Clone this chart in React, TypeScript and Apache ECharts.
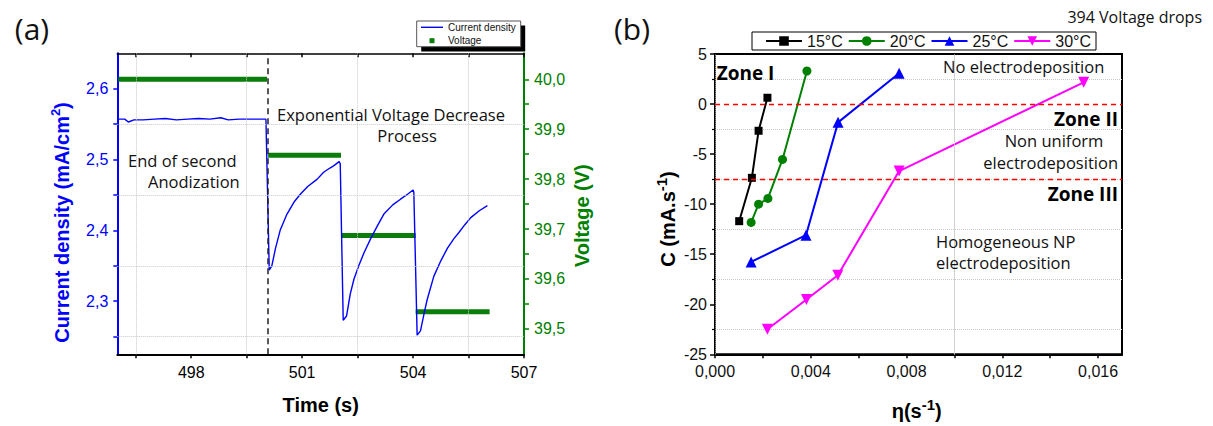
import { useEffect, useRef } from "react";
import * as echarts from "echarts";

// ---------- Panel (a) data ----------
const timeS = [
  496.0, 496.2, 496.3, 496.45, 496.7, 497.0, 497.3, 497.6, 497.9, 498.2, 498.5, 498.8, 499.0, 499.3, 499.6, 500.02,
  500.11, 500.18, 500.28, 500.41, 500.59, 500.78, 500.95, 501.15, 501.4, 501.58, 501.75, 501.85, 502.0, 502.03,
  502.11, 502.2, 502.3, 502.4, 502.53, 502.67, 502.85, 503.03, 503.21, 503.45, 503.66, 503.85, 504.0, 504.02,
  504.11, 504.2, 504.3, 504.38, 504.56, 504.75, 504.93, 505.1, 505.24, 505.4, 505.56, 505.8, 506.01,
];
const currentDensity = [
  2.557, 2.557, 2.553, 2.556, 2.556, 2.557, 2.558, 2.556, 2.557, 2.558, 2.557, 2.559, 2.556, 2.557, 2.557, 2.557,
  2.344, 2.35, 2.375, 2.401, 2.423, 2.44, 2.451, 2.462, 2.472, 2.482, 2.488, 2.491, 2.497, 2.494,
  2.273, 2.279, 2.31, 2.331, 2.35, 2.368, 2.388, 2.406, 2.423, 2.436, 2.444, 2.451, 2.457, 2.454,
  2.252, 2.258, 2.283, 2.302, 2.335, 2.357, 2.375, 2.388, 2.397, 2.408, 2.418, 2.428, 2.435,
];
const voltageStart = [496.03, 500.08, 502.06, 504.07];
const voltageEnd = [500.05, 502.05, 504.07, 506.07];
const voltageLevel = [40.0, 39.848, 39.687, 39.534];
const anodizationEnd = 500.08;

const timeTicks = [496.5, 498, 499.5, 501, 502.5, 504, 505.5, 507];
const timeLabels = [498, 501, 504, 507];
const timeGrid = [496.5, 499.5, 502.5, 505.5];
const currentTicks = [2.25, 2.3, 2.35, 2.4, 2.45, 2.5, 2.55, 2.6];
const currentLabels = [2.3, 2.4, 2.5, 2.6];
const currentGrid = [2.25, 2.35, 2.45, 2.55];
const voltageTicks = [39.5, 39.55, 39.6, 39.65, 39.7, 39.75, 39.8, 39.85, 39.9, 39.95, 40.0];
const voltageLabels = [39.5, 39.6, 39.7, 39.8, 39.9, 40.0];

// ---------- Panel (b) data ----------
const tempNames = ["15°C", "20°C", "25°C", "30°C"];
const eta15 = [0.00101, 0.00154, 0.00182, 0.00219];
const c15 = [-11.7, -7.37, -2.67, 0.63];
const eta20 = [0.00151, 0.00182, 0.00221, 0.00282, 0.00384];
const c20 = [-11.83, -10.0, -9.43, -5.53, 3.3];
const eta25 = [0.00151, 0.0038, 0.00514, 0.00769];
const c25 = [-15.77, -13.1, -1.83, 3.07];
const eta30 = [0.00219, 0.00382, 0.00513, 0.00769, 0.0154];
const c30 = [-22.5, -19.53, -17.1, -6.7, 2.17];

const etaTicks = [0, 0.002, 0.004, 0.006, 0.008, 0.01, 0.012, 0.014, 0.016];
const etaLabels = [0, 0.004, 0.008, 0.012, 0.016];
const etaGrid = [0.002, 0.006, 0.01, 0.014];
const zoneLimits = [0, -7.5];

const comma = (v: number, d: number) => v.toFixed(d).replace(".", ",");
const pairs = (xs: number[], ys: number[]) => xs.map((x, i) => [x, ys[i]]);

const SANS = "Liberation Sans";
const BODY = "Open Sans";
const BLUE = "#0000ff";
const GREEN = "#008000";
const VGREEN = "#0b7d0b";

function txt(text: string, x: number, y: number, o: any = {}) {
  return {
    type: "text",
    x,
    y,
    z: 50,
    rotation: o.rotation || 0,
    style: {
      text,
      fill: o.fill || "#111",
      fontSize: o.fontSize || 16,
      fontFamily: o.fontFamily || BODY,
      fontWeight: o.fontWeight || "normal",
      lineHeight: o.lineHeight || 18,
      align: o.align || "left",
      textAlign: o.align || "left",
      verticalAlign: "middle",
      textVerticalAlign: "middle",
      rich: o.rich,
    },
  };
}

export default function App() {
  const ref = useRef<HTMLDivElement>(null);

  useEffect(() => {
    if (!ref.current) return;
    const chart = echarts.init(ref.current, undefined, { renderer: "svg" });

    const voltData: any[] = [];
    voltageLevel.forEach((v, i) => {
      if (i > 0) voltData.push([voltageStart[i] - 0.005, "-"]);
      voltData.push([voltageStart[i], v]);
      voltData.push([voltageEnd[i], v]);
    });

    const gridLine = { color: "#c8c8c8", type: "dotted", width: 1 };

    const option: any = {
      animation: false,
      backgroundColor: "#fff",
      grid: [
        { left: 117.3, top: 53.3, width: 406.7, height: 301 },
        { left: 715, top: 54, width: 407, height: 300.3, show: true, borderColor: "#000", borderWidth: 2, backgroundColor: "transparent" },
      ],
      xAxis: [
        {
          gridIndex: 0, type: "value", min: 496, max: 507, position: "bottom",
          axisLine: { onZero: false, lineStyle: { color: "#000", width: 2 } },
          axisTick: { customValues: timeTicks, length: 4, lineStyle: { color: "#000", width: 1.5 } },
          axisLabel: { customValues: timeLabels, color: "#000", fontSize: 16, fontFamily: SANS, margin: 10 },
          splitLine: { show: false },
        },
        {
          gridIndex: 0, type: "value", min: 496, max: 507, position: "top",
          axisLine: { onZero: false, lineStyle: { color: "#000", width: 1.5 } },
          axisTick: { inside: true, customValues: timeTicks, length: 4, lineStyle: { color: "#000", width: 1.5 } },
          axisLabel: { show: false },
          splitLine: { show: false },
        },
        {
          gridIndex: 1, type: "value", min: 0, max: 0.017, position: "bottom",
          axisLine: { onZero: false, lineStyle: { color: "#000", width: 2 } },
          axisTick: { customValues: etaTicks, length: 4, lineStyle: { color: "#000", width: 1.5 } },
          axisLabel: { customValues: etaLabels, formatter: (v: number) => comma(v, 3), color: "#111", fontSize: 16, fontFamily: SANS, margin: 9 },
          splitLine: { show: false },
        },
      ],
      yAxis: [
        {
          gridIndex: 0, type: "value", min: 2.225, max: 2.65, position: "left",
          axisLine: { onZero: false, lineStyle: { color: BLUE, width: 2 } },
          axisTick: { customValues: currentTicks, length: 4, lineStyle: { color: BLUE, width: 1.5 } },
          axisLabel: { customValues: currentLabels, formatter: (v: number) => comma(v, 1), color: BLUE, fontSize: 16, fontFamily: SANS, margin: 9 },
          splitLine: { show: false },
        },
        {
          gridIndex: 0, type: "value", min: 39.449, max: 40.052, position: "right",
          axisLine: { onZero: false, lineStyle: { color: GREEN, width: 2 } },
          axisTick: { customValues: voltageTicks, length: 5, lineStyle: { color: GREEN, width: 1.5 } },
          axisLabel: { customValues: voltageLabels, formatter: (v: number) => comma(v, 1), color: GREEN, fontSize: 16, fontFamily: SANS, margin: 10 },
          splitLine: { show: false },
        },
        {
          gridIndex: 1, type: "value", min: -25, max: 5, interval: 5, position: "left",
          axisLine: { onZero: false, lineStyle: { color: "#000", width: 2 } },
          axisTick: { length: 5, lineStyle: { color: "#000", width: 1.5 } },
          minorTick: { show: true, splitNumber: 2, length: 3, lineStyle: { color: "#000", width: 1.2 } },
          axisLabel: { color: "#111", fontSize: 16, fontFamily: SANS, margin: 8 },
          splitLine: { show: false },
          minorSplitLine: { show: true, lineStyle: gridLine },
        },
      ],
      legend: [
        {
          data: [{ name: "Current density", icon: "path://M0,0M22,12M0,5.3h22v1.4h-22z" }],
          left: 421, top: 21.3, itemWidth: 22, itemHeight: 12, padding: 0, z: 10,
          textStyle: { fontSize: 10, fontFamily: SANS, color: "#111" },
        },
        {
          data: [{ name: "Voltage", icon: "path://M0,0M22,12M8.5,3.5h5v5h-5z" }],
          left: 421, top: 34.7, itemWidth: 22, itemHeight: 12, padding: 0, z: 10,
          textStyle: { fontSize: 10, fontFamily: SANS, color: "#111" },
        },
        {
          data: tempNames, left: 752, top: 32, itemWidth: 36, itemHeight: 12, itemGap: 5, padding: [1, 5, 1, 13],
          borderColor: "#000", borderWidth: 1, backgroundColor: "#fff", z: 10,
          textStyle: { fontSize: 16, fontFamily: SANS, color: "#111" },
        },
      ],
      series: [
        {
          name: "Voltage", type: "line", xAxisIndex: 0, yAxisIndex: 1, data: voltData, symbol: "none",
          connectNulls: false, lineStyle: { color: VGREEN, width: 5 }, itemStyle: { color: VGREEN }, silent: true,
        },
        {
          name: "Current density", type: "line", xAxisIndex: 0, yAxisIndex: 0, data: pairs(timeS, currentDensity),
          symbol: "none", lineStyle: { color: BLUE, width: 1.4 }, itemStyle: { color: BLUE }, silent: true,
          markLine: {
            silent: true, symbol: ["none", "none"], label: { show: false }, animation: false,
            lineStyle: gridLine,
            data: [
              ...timeGrid.map((x) => ({ xAxis: x })),
              ...currentGrid.map((y) => ({ yAxis: y })),
              { xAxis: anodizationEnd, lineStyle: { color: "#222", type: [6, 4], width: 1.5 } },
            ],
          },
        },
        {
          name: tempNames[0], type: "line", xAxisIndex: 2, yAxisIndex: 2, data: pairs(eta15, c15),
          symbol: "rect", symbolSize: 8, lineStyle: { color: "#000", width: 2 }, itemStyle: { color: "#000" },
          markLine: {
            silent: true, symbol: ["none", "none"], label: { show: false }, animation: false,
            lineStyle: gridLine,
            data: [
              ...etaGrid.map((x) => ({ xAxis: x })),
              ...zoneLimits.map((y) => ({ yAxis: y, lineStyle: { color: "#ff0000", type: [5, 4], width: 1.3 } })),
            ],
          },
        },
        {
          name: tempNames[1], type: "line", xAxisIndex: 2, yAxisIndex: 2, data: pairs(eta20, c20),
          symbol: "circle", symbolSize: 9, lineStyle: { color: GREEN, width: 2 }, itemStyle: { color: GREEN },
        },
        {
          name: tempNames[2], type: "line", xAxisIndex: 2, yAxisIndex: 2, data: pairs(eta25, c25),
          symbol: "triangle", symbolSize: 11, lineStyle: { color: BLUE, width: 2 }, itemStyle: { color: BLUE },
        },
        {
          name: tempNames[3], type: "line", xAxisIndex: 2, yAxisIndex: 2, data: pairs(eta30, c30),
          symbol: "triangle", symbolRotate: 180, symbolSize: 11, lineStyle: { color: "#ff00ff", width: 2 }, itemStyle: { color: "#ff00ff" },
        },
      ],
      graphic: [
        { type: "rect", z: 5, shape: { x: 421.2, y: 25.5, width: 104, height: 26 }, style: { fill: "#000" } },
        { type: "rect", z: 6, shape: { x: 416.7, y: 21, width: 104, height: 25.7 }, style: { fill: "#fff", stroke: "#555", lineWidth: 1 } },
        txt("(a)", 32, 28, { fontSize: 30, align: "center", lineHeight: 34 }),
        txt("(b)", 632, 28, { fontSize: 30, align: "center", lineHeight: 34 }),
        txt("394 Voltage drops", 1202, 17, { fontSize: 16, align: "right" }),
        txt("Exponential Voltage Decrease", 277, 114.3, { fontSize: 16.5 }),
        txt("Process", 407, 135.7, { fontSize: 16.5, align: "center" }),
        txt("End of second", 128, 160, { fontSize: 16.5 }),
        txt("Anodization", 148, 181, { fontSize: 16.5 }),
        txt("Zone I", 716.7, 73.3, { fontSize: 19, fontWeight: "bold", fill: "#000", lineHeight: 20 }),
        txt("No electrodeposition", 943, 66.7, { fontSize: 16.5 }),
        txt("Zone II", 1118, 119, { fontSize: 19, fontWeight: "bold", fill: "#000", align: "right", lineHeight: 20 }),
        txt("Non uniform", 1054, 140.5, { fontSize: 16.5, align: "center" }),
        txt("electrodeposition", 1118, 162.7, { fontSize: 16.5, align: "right" }),
        txt("Zone III", 1118, 194.3, { fontSize: 19, fontWeight: "bold", fill: "#000", align: "right", lineHeight: 20 }),
        txt("Homogeneous NP", 936, 241, { fontSize: 16.5 }),
        txt("electrodeposition", 936, 262.4, { fontSize: 16.5 }),
        txt("{a|Current density (mA/cm}{s|2}{a|)}", 61.7, 222.5, {
          rotation: Math.PI / 2, align: "center",
          rich: {
            a: { fontSize: 20, fontWeight: "bold", fontFamily: SANS, fill: BLUE, color: BLUE, lineHeight: 26 },
            s: { fontSize: 13, fontWeight: "bold", fontFamily: SANS, fill: BLUE, color: BLUE, verticalAlign: "top", lineHeight: 26 },
          },
        }),
        txt("Voltage (V)", 581.7, 215.7, { rotation: Math.PI / 2, align: "center", fontSize: 20, fontWeight: "bold", fontFamily: SANS, fill: GREEN, lineHeight: 22 }),
        txt("Time (s)", 320.7, 405, { align: "center", fontSize: 20, fontWeight: "bold", fontFamily: SANS, fill: "#000", lineHeight: 22 }),
        txt("{a|C (mA.s}{s|-1}{a|)}", 668, 219, {
          rotation: Math.PI / 2, align: "center",
          rich: {
            a: { fontSize: 20, fontWeight: "bold", fontFamily: SANS, fill: "#000", color: "#000", lineHeight: 28 },
            s: { fontSize: 15, fontWeight: "bold", fontFamily: SANS, fill: "#000", color: "#000", verticalAlign: "top", lineHeight: 28 },
          },
        }),
        txt("{a|η(s}{s|-1}{a|)}", 916.7, 411, {
          align: "center",
          rich: {
            a: { fontSize: 20, fontWeight: "bold", fontFamily: SANS, fill: "#000", color: "#000", lineHeight: 28 },
            s: { fontSize: 15, fontWeight: "bold", fontFamily: SANS, fill: "#000", color: "#000", verticalAlign: "top", lineHeight: 28 },
          },
        }),
      ],
    };

    chart.setOption(option);
    return () => chart.dispose();
  }, []);

  return <div ref={ref} style={{ position: "absolute", left: 0, top: 0, width: 1213, height: 426 }} />;
}
